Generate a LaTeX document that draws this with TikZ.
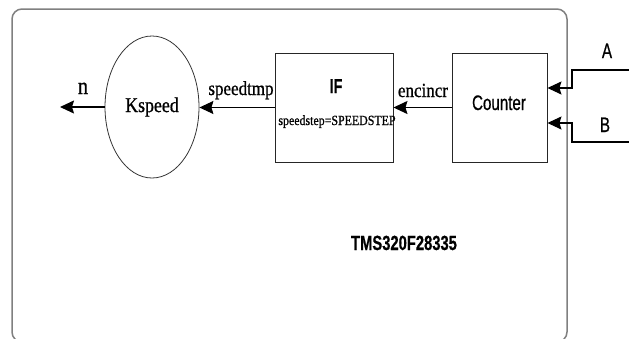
\documentclass[tikz,border=0pt]{standalone}
\usepackage{fontspec}
\usepackage{tikz}
\usetikzlibrary{arrows.meta,shapes.geometric}
\newfontfamily\serifc[FakeStretch=0.85,FakeBold=0.8]{Liberation Serif}
\newfontfamily\sansc[FakeStretch=0.72,FakeBold=0.6]{Liberation Sans}
\tikzstyle{blockbox} = [draw=black!85, line width=0.9pt, rectangle, minimum width=118pt, minimum height=109pt, inner sep=0pt]
\tikzstyle{sigarrow} = [draw=black, line width=1.2pt, -{Stealth[length=14pt,width=13pt,inset=2pt]}]
\tikzstyle{serlabel} = [anchor=base, inner sep=0pt, font=\serifc\fontsize{20}{20}\selectfont]
\tikzstyle{sanlabel} = [anchor=base, inner sep=0pt, font=\sansc\fontsize{21}{21}\selectfont]

\begin{document}
\begin{tikzpicture}[x=1pt,y=-1pt]
\useasboundingbox (0,0) rectangle (629,338);
\clip (0,0) rectangle (629,338);
% DSP frame
\draw[black!50, line width=1.5pt, rounded corners=10pt] (12,9) rectangle (567,342);
\node[sanlabel, font=\sansc\bfseries\fontsize{20.5}{20.5}\selectfont] (chip) at (404,250) {TMS320F28335};

% blocks
\node[draw=black!80, line width=0.8pt, ellipse, minimum width=94pt, minimum height=142pt, inner sep=0pt,
      font=\serifc\fontsize{21}{21}\selectfont] (kspeed) at (152,107) {Kspeed};
\node[blockbox] (ifbox) at (334,107.5) {};
\node[blockbox, minimum width=95pt] (counter) at (499.5,107.5) {};
\node[sanlabel, font=\sansc\bfseries\fontsize{20}{20}\selectfont] (iflbl) at (336,93) {IF};
\node[serlabel, font=\serifc\fontsize{14}{14}\selectfont] (steplbl) at (337,125) {speedstep=SPEEDSTEP};
\node[sanlabel] (counterlbl) at (499,110) {Counter};

% signals
\coordinate (nout) at (60,107);
\coordinate (ina) at (629,70);
\coordinate (ajog) at (572,88);
\coordinate (inb) at (629,142);
\coordinate (bjog) at (572,123);
\draw[sigarrow] (kspeed.west) -- (nout);
\draw[sigarrow] (ifbox.west) -- (ifbox.west -| kspeed.east);
\draw[sigarrow] (counter.west) -- (ifbox.east);
\draw[sigarrow] (ina) -| (ajog) -- (counter.east |- ajog);
\draw[sigarrow] (inb) -| (bjog) -- (counter.east |- bjog);
\node[serlabel, font=\serifc\fontsize{24}{24}\selectfont] (nlbl) at (83,94) {n};
\node[serlabel] (tmplbl) at (241,95) {speedtmp};
\node[serlabel] (inclbl) at (423,97) {encincr};
\node[sanlabel] (albl) at (607,58) {A};
\node[sanlabel] (blbl) at (605,132) {B};
\end{tikzpicture}
\end{document}
